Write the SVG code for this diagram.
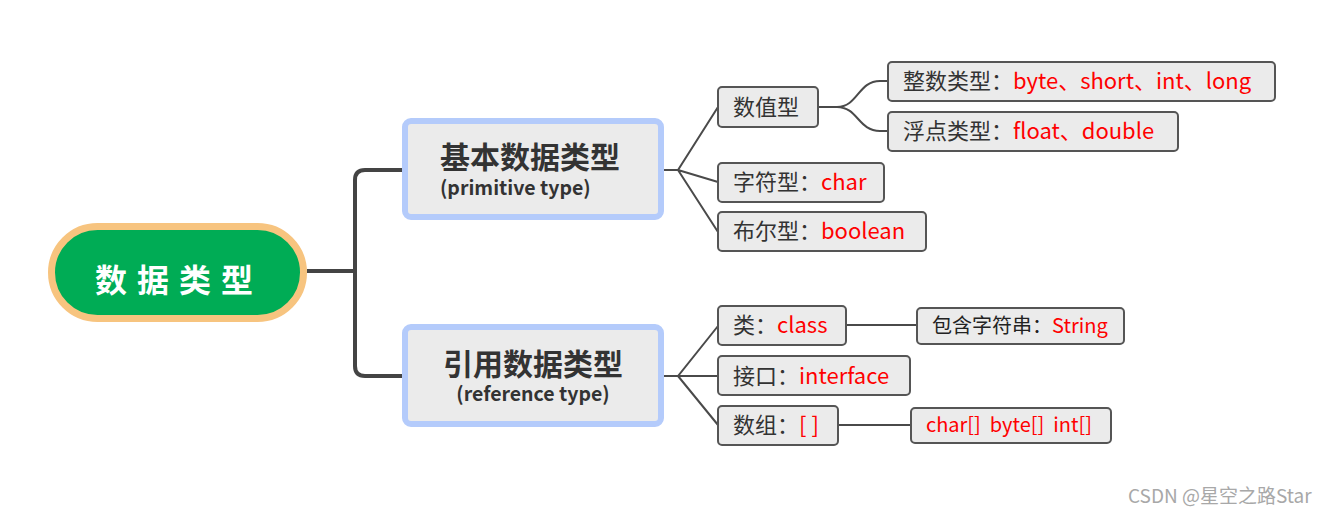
<svg xmlns="http://www.w3.org/2000/svg" width="1331" height="515" viewBox="0 0 1331 515">
<style>
text{font-family:"Noto Sans CJK SC","Microsoft YaHei",sans-serif;}
.conn{fill:none;stroke:#4a4a4a;stroke-width:2;}
.main{fill:none;stroke:#444;stroke-width:4;}
.leaf{fill:#ebebeb;stroke:#555;stroke-width:2;}
.mid{fill:#ebebeb;stroke:#b4cbfb;stroke-width:6;}
.lt{font-size:22px;fill:#333;}
.st{font-size:20px;fill:#222;}
.r{fill:#ff0000;}
.title{font-size:30px;font-weight:bold;fill:#333;}
.sub{font-size:19.5px;font-weight:bold;fill:#333;}
</style>
<rect width="1331" height="515" fill="#ffffff"/>
<g id="connectors">
<path class="main" d="M307 271 H355 M405 170 H365 Q355 170 355 180 V366 Q355 376 365 376 H405"/>
<path class="conn" d="M663 170 H678 L718 107 M678 170 L718 182 M678 170 L718 232"/>
<path class="conn" d="M818 107 H837 C858 107 858 81 880 81 H888 M837 107 C858 107 858 131 880 131 H888"/>
<path class="conn" d="M663 376 H678 L718 326 M678 376 H718 M678 376 L718 425"/>
<path class="conn" d="M846 325 H917 M838 425 H911"/>
</g>
<g id="root">
<rect x="51.5" y="226.5" width="252" height="92" rx="46" fill="#00ac55" stroke="#f7c47f" stroke-width="7"/>
<text x="179" y="292" text-anchor="middle" font-size="32" font-weight="bold" fill="#fff" letter-spacing="10">数据类型</text>
</g>
<g id="primitive">
<rect class="mid" x="405" y="121" width="256" height="96" rx="6"/>
<text class="title" x="440" y="168">基本数据类型</text>
<text class="sub" x="440" y="195">(primitive type)</text>
</g>
<g id="reference">
<rect class="mid" x="405" y="327" width="256" height="97" rx="6"/>
<text class="title" x="533" y="375" text-anchor="middle">引用数据类型</text>
<text class="sub" x="533" y="401" text-anchor="middle">(reference type)</text>
</g>
<g id="numeric">
<rect class="leaf" x="718" y="87" width="100" height="40" rx="4"/>
<text class="lt" x="733" y="115">数值型</text>
</g>
<g id="integer">
<rect class="leaf" x="888" y="62" width="387" height="39" rx="4"/>
<text class="lt" x="903" y="89">整数类型：<tspan class="r">byte、short、int、long</tspan></text>
</g>
<g id="float">
<rect class="leaf" x="888" y="112" width="290" height="39" rx="4"/>
<text class="lt" x="903" y="139">浮点类型：<tspan class="r">float、double</tspan></text>
</g>
<g id="char">
<rect class="leaf" x="718" y="163" width="166" height="39" rx="4"/>
<text class="lt" x="733" y="190">字符型：<tspan class="r">char</tspan></text>
</g>
<g id="boolean">
<rect class="leaf" x="718" y="212" width="208" height="39" rx="4"/>
<text class="lt" x="733" y="239">布尔型：<tspan class="r">boolean</tspan></text>
</g>
<g id="class">
<rect class="leaf" x="718" y="306" width="128" height="39" rx="4"/>
<text class="lt" x="733" y="333">类：<tspan class="r">class</tspan></text>
</g>
<g id="string">
<rect class="leaf" x="917" y="308" width="207" height="36" rx="4"/>
<text class="st" x="932" y="333">包含字符串：<tspan class="r">String</tspan></text>
</g>
<g id="interface">
<rect class="leaf" x="718" y="356" width="192" height="39" rx="4"/>
<text class="lt" x="733" y="384">接口：<tspan class="r">interface</tspan></text>
</g>
<g id="array">
<rect class="leaf" x="718" y="406" width="120" height="39" rx="4"/>
<text class="lt" x="733" y="433">数组：<tspan class="r">[ ]</tspan></text>
</g>
<g id="arrays">
<rect class="leaf" x="911" y="408" width="200" height="35" rx="4"/>
<text class="st r" x="926" y="432" xml:space="preserve">char[]  byte[]  int[]</text>
</g>
<text x="1128" y="503" font-size="19" fill="#a8a8a8">CSDN @星空之路Star</text>
</svg>
